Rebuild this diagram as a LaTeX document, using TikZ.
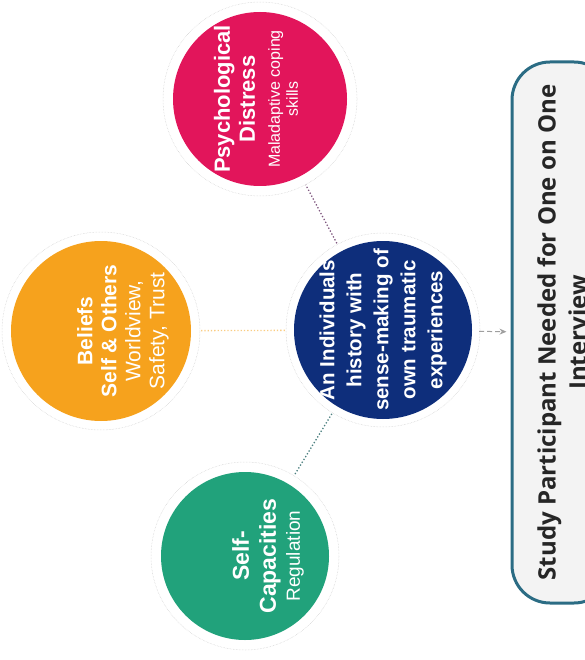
\documentclass[tikz,border=0pt]{standalone}
\usepackage{fontspec}
\setmainfont{Liberation Sans}
\newfontfamily\boxfont{Open Sans}
\usetikzlibrary{arrows.meta}

\definecolor{distresspink}{HTML}{E2155B}
\definecolor{beliefsorange}{HTML}{F6A21D}
\definecolor{capacgreen}{HTML}{21A27B}
\definecolor{hubnavy}{HTML}{0E2E7B}
\definecolor{boxteal}{HTML}{2B6C84}
\definecolor{boxgrey}{HTML}{F3F3F3}
\definecolor{boxink}{HTML}{262626}

\tikzset{
  bubble/.style={circle, inner sep=0pt, minimum size=#1},
  bubbletext/.style={rotate=90, text=white, align=center, inner sep=0pt},
  ring/.style={gray!40, line width=0.5pt, densely dotted},
  link/.style={dotted, line width=1.3pt, shorten <=9pt, shorten >=10pt},
  flow/.style={gray!75, line width=1pt, dash pattern=on 5pt off 3pt,
    -{Stealth[length=7pt,width=6pt]}, shorten <=7pt, shorten >=4pt},
}

\begin{document}
\begin{tikzpicture}[x=1pt,y=-1pt]
\useasboundingbox (0,0) rectangle (585,660);
\clip (0,0) rectangle (585,660);

% the four circles
\node[bubble=174pt, fill=distresspink] (distress) at (260,99) {};
\node[bubble=180pt, fill=beliefsorange] (beliefs) at (101,331) {};
\node[bubble=168pt, fill=capacgreen] (capac) at (245,556) {};
\node[bubble=178pt, fill=hubnavy] (hub) at (383,330) {};

\foreach \n/\r in {distress/97, beliefs/99, capac/94, hub/97}
  \draw[ring] (\n) circle (\r);

% texts
\node[bubbletext, font=\fontsize{22}{25}\selectfont] (distress text)
  at ([xshift=-4pt]distress.center)
  {\textbf{Psychological}\\\textbf{Distress}\\
   {\fontsize{16}{18}\selectfont Maladaptive coping}\\[-7pt]
   {\fontsize{16}{18}\selectfont skills}};
\node[bubbletext, font=\fontsize{21}{24}\selectfont] (beliefs text)
  at ([xshift=22pt]beliefs.center)
  {\textbf{Beliefs}\\\textbf{Self \& Others}\\Worldview,\\Safety, Trust};
\node[bubbletext, font=\fontsize{23}{27}\selectfont] (capac text)
  at ([xshift=23pt]capac.center)
  {\textbf{Self-}\\\textbf{Capacities}\\[-3pt]{\fontsize{19}{22}\selectfont Regulation}};
\node[bubbletext, font=\bfseries\fontsize{20.5}{27}\selectfont] (hub text)
  at (hub.center)
  {An Individuals\\history with\\sense-making of\\own traumatic\\experiences};

% recruitment box, runs off the right edge
\node[rotate=90, draw=boxteal, line width=3pt, fill=boxgrey,
  rounded corners=38pt, minimum width=541pt, minimum height=100pt,
  align=center, text=boxink, font=\boxfont\bfseries\fontsize{24}{31}\selectfont]
  (recruit) at (562,332.5)
  {Study Participant Needed for One on One\\Interview};

% connectors
\draw[link, color=gray!70!violet] (hub) -- (distress);
\draw[link, color=beliefsorange!55] (hub) -- (beliefs);
\draw[link, color=gray!60!teal] (hub) -- (capac);
\draw[flow] (hub) -- (recruit);
\end{tikzpicture}
\end{document}
